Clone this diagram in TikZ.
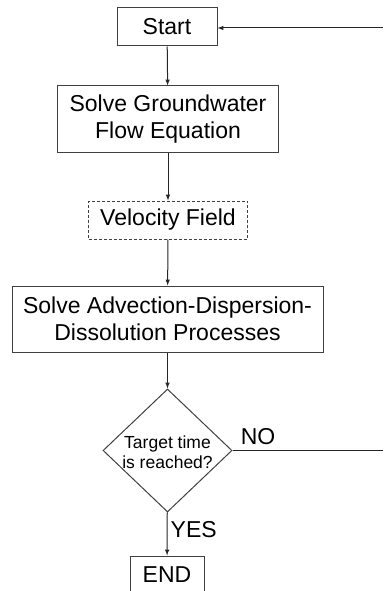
\documentclass[tikz,border=0pt]{standalone}
\usepackage{fontspec}
\setmainfont{Liberation Sans}
\usetikzlibrary{shapes.geometric}
\begin{document}
\begin{tikzpicture}[x=1pt, y=-1pt, every node/.style={font=\fontsize{23}{27}\selectfont, text=black},
  box/.style={draw=black!75, line width=1pt, inner sep=0pt, align=center},
  decision/.style={diamond, draw=black!75, line width=1pt, inner sep=0pt, minimum width=129pt, minimum height=123pt},
  flow/.style={line width=1pt, black!85, -latex},
  lbl/.style={inner sep=0pt}]
  \useasboundingbox (0,0) rectangle (383,591);
  \node[box, minimum width=100pt, minimum height=38pt] (start) at (167,27) {Start};
  \node[box, minimum width=221pt, minimum height=66pt] (gw) at (168,119) {Solve Groundwater\\Flow Equation};
  \node[box, dashed, dash pattern=on 3pt off 2pt, minimum width=159pt, minimum height=38pt] (vel) at (168,220) {Velocity Field};
  \node[box, minimum width=311pt, minimum height=66pt] (add) at (167.5,319) {Solve Advection-Dispersion-\\Dissolution Processes};
  \node[decision, label={[font=\fontsize{17.5}{20}\selectfont, align=center, yshift=-2pt]center:Target time\\is reached?}] (check) at (167.5,450.5) {};
  \node[box, minimum width=74pt, minimum height=38pt] (stop) at (167,575) {END};
  \coordinate (loopin) at (383,28);
  \coordinate (loopout) at (383,450.5);
  \draw[flow] (start) -- (gw);
  \draw[flow] (gw) -- (vel);
  \draw[flow] (vel) -- (add);
  \draw[flow] (add) -- (check);
  \draw[flow] (check) -- (stop) node[lbl, pos=0.4, right=3pt] {YES};
  \draw[line width=1pt, black!85] (check.east) -- (loopout) node[lbl, pos=0.17, above=5pt] {NO};
  \draw[flow] (loopin) -- (start.east |- loopin);
\end{tikzpicture}
\end{document}
